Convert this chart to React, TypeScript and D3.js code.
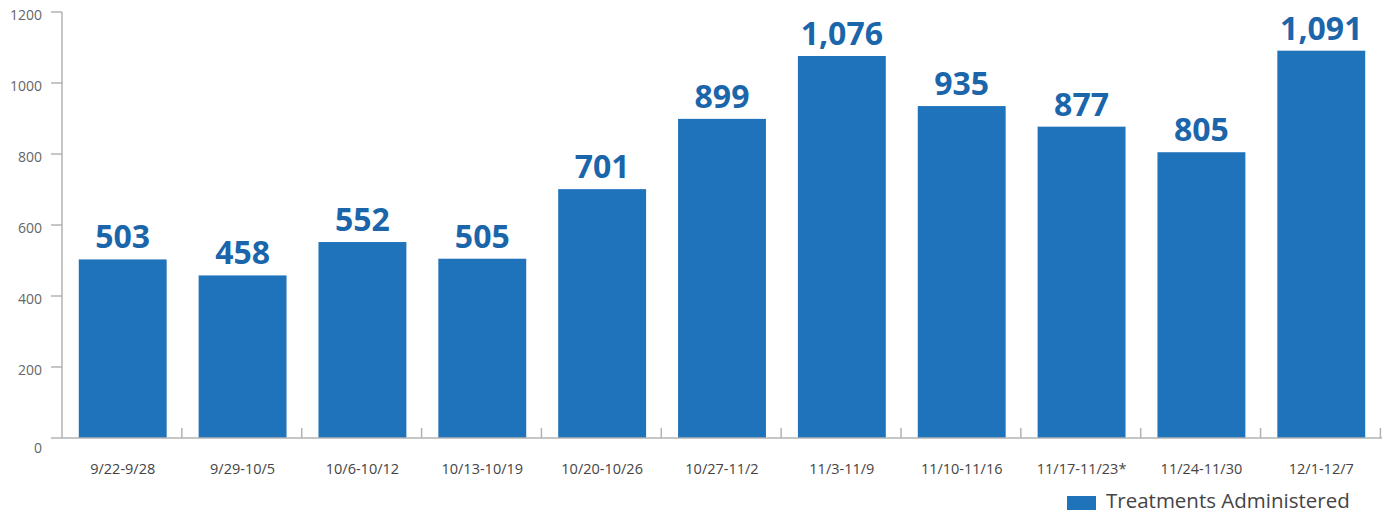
import React from "react";
import * as d3 from "d3";

const categories = ["9/22-9/28", "9/29-10/5", "10/6-10/12", "10/13-10/19", "10/20-10/26", "10/27-11/2", "11/3-11/9", "11/10-11/16", "11/17-11/23*", "11/24-11/30", "12/1-12/7"];
const values = [503, 458, 552, 505, 701, 899, 1076, 935, 877, 805, 1091];
const yTicks = [0, 200, 400, 600, 800, 1000, 1200];
const legendLabel = "Treatments Administered";

const W = 1386, H = 514;
const left = 62, right = 1382, top = 12, bottom = 438;
const font = "'Open Sans', 'Noto Sans', sans-serif";
const barColor = "#1f73bb";
const labelColor = "#1b65ab";
const axisColor = "#b3b3b3";

export default function App() {
  const x = d3.scaleBand<string>().domain(categories).range([left, right]).paddingInner(0.2667).paddingOuter(0.14);
  const y = d3.scaleLinear().domain([0, 1200]).range([bottom, top]);
  const fmt = d3.format(",");
  const step = x.step();
  return (
    <svg width={W} height={H} style={{ position: "absolute", left: 0, top: 0 }}>
      {values.map((v, i) => (
        <rect key={i} x={x(categories[i])} y={y(v)} width={x.bandwidth()} height={bottom - y(v)} fill={barColor} />
      ))}
      {values.map((v, i) => (
        <text key={"l" + i} x={(x(categories[i]) as number) + x.bandwidth() / 2} y={y(v) - 11} textAnchor="middle"
          fontFamily={font} fontWeight={700} fontSize={32} fill={labelColor}>{fmt(v)}</text>
      ))}
      {/* y axis */}
      <line x1={left} x2={left} y1={y(1200)} y2={bottom} stroke={axisColor} strokeWidth={1.5} />
      {yTicks.map((t) => (
        <g key={"y" + t}>
          <line x1={left - 11} x2={left} y1={y(t)} y2={y(t)} stroke={axisColor} strokeWidth={1.5} />
          <text x={42} y={y(t) + 8 + (t === 0 ? 7 : 0)} textAnchor="end" fontFamily={font} fontSize={14} fill="#666">{t}</text>
        </g>
      ))}
      {/* x axis */}
      <line x1={left} x2={right} y1={bottom} y2={bottom} stroke={axisColor} strokeWidth={1.5} />
      {categories.map((c, i) => (
        <line key={"xt" + i} x1={left + step * (i + 1)} x2={left + step * (i + 1)} y1={bottom} y2={bottom - 10} stroke={axisColor} strokeWidth={1.5} />
      ))}
      {categories.map((c) => (
        <text key={"xl" + c} x={(x(c) as number) + x.bandwidth() / 2} y={474} textAnchor="middle" fontFamily={font} fontSize={14.5} fill="#444">{c}</text>
      ))}
      {/* legend */}
      <rect x={1067} y={496} width={29} height={14} fill={barColor} />
      <text x={1106} y={508} fontFamily={font} fontSize={20.5} fill="#444">{legendLabel}</text>
    </svg>
  );
}
